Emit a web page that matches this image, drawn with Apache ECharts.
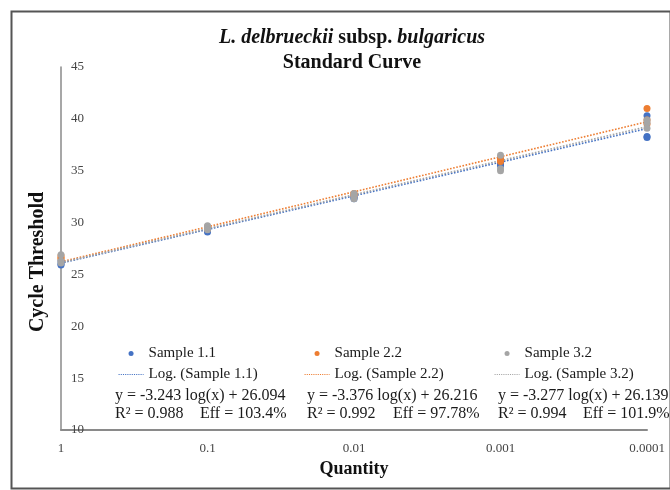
<!DOCTYPE html>
<html>
<head>
<meta charset="utf-8">
<script src="https://cdn.jsdelivr.net/npm/echarts@6/dist/echarts.min.js"></script>
<style>
  html, body { margin: 0; padding: 0; background: #ffffff; }
  #chart { width: 670px; height: 490px; }
</style>
</head>
<body>
<div id="chart"></div>
<script>
// Dilution series (template quantity) and their tick labels
const quantities = [1, 0.1, 0.01, 0.001, 0.0001];
const quantityLabels = ['1', '0.1', '0.01', '0.001', '0.0001'];

const sampleNames = ['Sample 1.1', 'Sample 2.2', 'Sample 3.2'];
const trendNames = ['Log. (Sample 1.1)', 'Log. (Sample 2.2)', 'Log. (Sample 3.2)'];

// Ct replicates per dilution (rows follow `quantities`)
const ctSample11 = [
  [26.0, 26.3, 25.9],
  [29.2, 29.4, 29.1],
  [32.4, 32.5, 32.3],
  [35.5, 35.8, 35.6],
  [40.3, 38.3, 38.2]
];
const ctSample22 = [
  [26.5, 26.8, 26.6],
  [29.5, 29.6, 29.4],
  [32.7, 32.8, 32.6],
  [35.9, 36.2, 36.0],
  [41.0, 39.9, 39.5]
];
const ctSample32 = [
  [26.3, 26.9, 26.1],
  [29.7, 29.5, 29.3],
  [32.6, 32.3, 32.8],
  [36.5, 35.2, 35.0],
  [39.6, 39.1, 39.9]
];

// Logarithmic fit parameters: Ct = slope * log(x) + intercept
const slopes = [-3.243, -3.376, -3.277];
const intercepts = [26.094, 26.216, 26.139];
const equationTexts = [
  'y = -3.243 log(x) + 26.094',
  'y = -3.376 log(x) + 26.216',
  'y = -3.277 log(x) + 26.139'
];
const r2Texts = ['R\u00B2 = 0.988', 'R\u00B2 = 0.992', 'R\u00B2 = 0.994'];
const effTexts = ['Eff = 103.4%', 'Eff = 97.78%', 'Eff = 101.9%'];

const colors = ['#4472C4', '#ED7D31', '#A5A5A5'];
const serif = '"Liberation Serif", "DejaVu Serif", serif';

const ctSets = [ctSample11, ctSample22, ctSample32];

function scatterPoints(ct) {
  const pts = [];
  ct.forEach((reps, i) => reps.forEach(v => pts.push([quantities[i], v])));
  return pts;
}

function fitLine(k) {
  const xs = [quantities[0], quantities[quantities.length - 1]];
  return xs.map(x => [x, slopes[k] * Math.log10(x) + intercepts[k]]);
}

const series = [];
for (let k = 0; k < 3; k++) {
  series.push({
    name: trendNames[k],
    type: 'line',
    data: fitLine(k),
    symbol: 'none',
    showSymbol: false,
    z: 2,
    lineStyle: { color: colors[k], width: 1.6, type: 'dotted' },
    itemStyle: { color: colors[k] }
  });
}
for (let k = 0; k < 3; k++) {
  series.push({
    name: sampleNames[k],
    type: 'scatter',
    data: scatterPoints(ctSets[k]),
    symbol: 'circle',
    symbolSize: 7,
    clip: false,
    z: 3,
    itemStyle: { color: colors[k], opacity: 1 }
  });
}

// legend columns: dot entry above trendline entry
const legendLefts = [118, 304, 494];
const legends = legendLefts.map((left, k) => ({
  orient: 'vertical',
  left: left,
  top: 346,
  padding: 0,
  itemWidth: 25,
  itemHeight: 5,
  itemGap: 6,
  selectedMode: false,
  lineStyle: { width: 1.1 },
  textStyle: { fontFamily: serif, fontSize: 15, color: '#1a1a1a' },
  data: [
    { name: sampleNames[k], icon: 'circle' },
    { name: trendNames[k], itemStyle: { opacity: 0 } }
  ]
}));

// regression equation blocks under each legend column
const eqLefts = [115, 307, 498];
const effLefts = [200, 393, 583];
const graphics = [];
for (let k = 0; k < 3; k++) {
  graphics.push({
    type: 'text', left: eqLefts[k], top: 388, z: 10,
    style: { text: equationTexts[k], font: '16px ' + serif, fill: '#1a1a1a' }
  });
  graphics.push({
    type: 'text', left: eqLefts[k], top: 406, z: 10,
    style: { text: r2Texts[k], font: '16px ' + serif, fill: '#1a1a1a' }
  });
  graphics.push({
    type: 'text', left: effLefts[k], top: 406, z: 10,
    style: { text: effTexts[k], font: '16px ' + serif, fill: '#1a1a1a' }
  });
}
// vertical axis title
graphics.push({
  type: 'text', x: 38, y: 262, rotation: Math.PI / 2, z: 10,
  style: {
    text: 'Cycle Threshold', font: 'bold 20px ' + serif, fill: '#111',
    align: 'center', verticalAlign: 'middle'
  }
});
// outer chart frame
graphics.push({
  type: 'rect', left: 9, top: 9, z: 0,
  shape: { width: 659, height: 477 },
  style: { fill: 'none', stroke: '#555', lineWidth: 2 }
});

const chart = echarts.init(document.getElementById('chart'), null, { renderer: 'canvas' });
chart.setOption({
  animation: false,
  backgroundColor: '#ffffff',
  title: {
    left: 347,
    top: 20,
    textAlign: 'center',
    text: '{i|L. delbrueckii} {b|subsp.} {i|bulgaricus}\n{b|Standard Curve}',
    textStyle: {
      rich: {
        i: { fontFamily: serif, fontSize: 20, fontStyle: 'italic', fontWeight: 'bold', color: '#111', lineHeight: 25 },
        b: { fontFamily: serif, fontSize: 20, fontWeight: 'bold', color: '#111', lineHeight: 25 }
      }
    }
  },
  legend: legends,
  grid: { left: 61, right: 23, top: 67, bottom: 60, containLabel: false },
  xAxis: {
    type: 'log',
    logBase: 10,
    min: 0.0001,
    max: 1,
    inverse: true,
    name: 'Quantity',
    nameLocation: 'middle',
    nameGap: 28,
    nameTextStyle: { fontFamily: serif, fontSize: 18, fontWeight: 'bold', color: '#111' },
    axisLine: { show: true, lineStyle: { color: '#8a8a8a', width: 2 } },
    axisTick: { show: false },
    splitLine: { show: false },
    axisLabel: {
      margin: 12,
      fontFamily: serif,
      fontSize: 13,
      color: '#444',
      formatter: v => quantityLabels[Math.round(-Math.log10(v))]
    }
  },
  yAxis: {
    type: 'value',
    min: 10,
    max: 45,
    interval: 5,
    axisLine: { show: true, lineStyle: { color: '#8a8a8a', width: 1.5 } },
    axisTick: { show: false },
    splitLine: { show: false },
    axisLabel: { inside: true, margin: 10, fontFamily: serif, fontSize: 13, color: '#444' }
  },
  graphic: graphics,
  series: series
});
</script>
</body>
</html>
